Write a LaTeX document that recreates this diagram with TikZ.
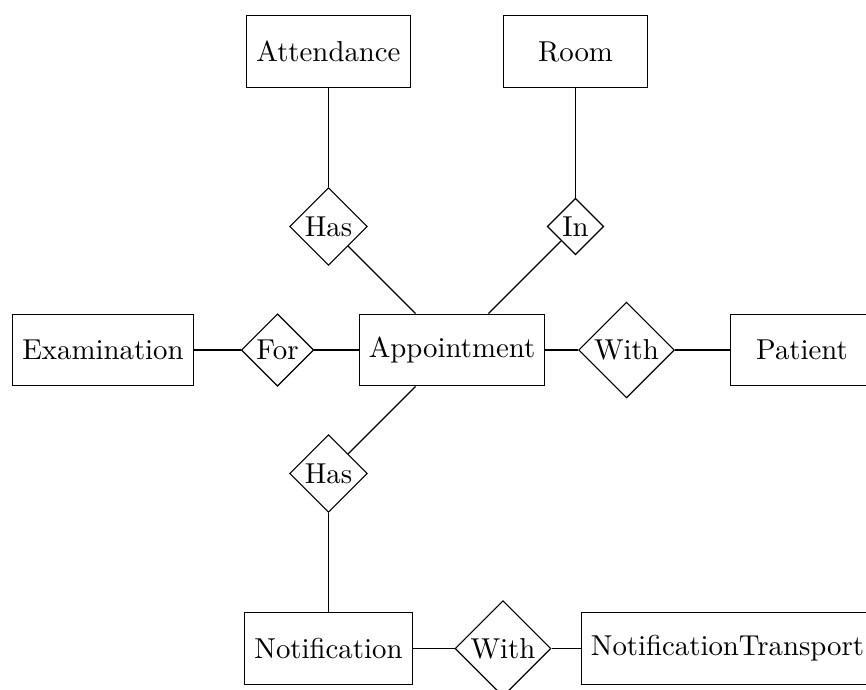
\documentclass[tikz,border=0pt]{standalone}
\usetikzlibrary{shapes.geometric}
\begin{document}
\begin{tikzpicture}[
  x=0.3472pt, y=-0.3472pt,
  entity/.style={draw, rectangle, minimum width=49.9pt, minimum height=24.9pt},
  relation/.style={draw, diamond, aspect=1, inner sep=0.9pt},
  link/.style={draw}
]
\useasboundingbox (0,0) rectangle (866,689);

% entities
\node[entity] (attendance) at (328.5,51.5) {Attendance};
\node[entity] (room) at (575.5,51.5) {Room};
\node[entity] (examination) at (103,350) {Examination};
\node[entity] (appointment) at (452,350) {Appointment};
\node[entity] (patient) at (802,350) {Patient};
\node[entity] (notification) at (328.5,648.5) {Notification};
\node[entity] (transport) at (727.5,648.5) {NotificationTransport};

% relationships
\node[relation] (hasatt) at (328.5,226.5) {Has};
\node[relation] (inroom) at (575.5,226.5) {In};
\node[relation] (forexam) at (277.5,350) {For};
\node[relation] (withpat) at (626.5,350) {With};
\node[relation] (hasnot) at (328.5,473.5) {Has};
\node[relation] (withtr) at (503,648.5) {With};

% connectors
\draw[link] (attendance) -- (hasatt);
\draw[link] (hasatt) -- (appointment);
\draw[link] (room) -- (inroom);
\draw[link] (inroom) -- (appointment);
\draw[link] (examination) -- (forexam);
\draw[link] (forexam) -- (appointment);
\draw[link] (appointment) -- (withpat);
\draw[link] (withpat) -- (patient);
\draw[link] (appointment) -- (hasnot);
\draw[link] (hasnot) -- (notification);
\draw[link] (notification) -- (withtr);
\draw[link] (withtr) -- (transport);
\end{tikzpicture}
\end{document}
